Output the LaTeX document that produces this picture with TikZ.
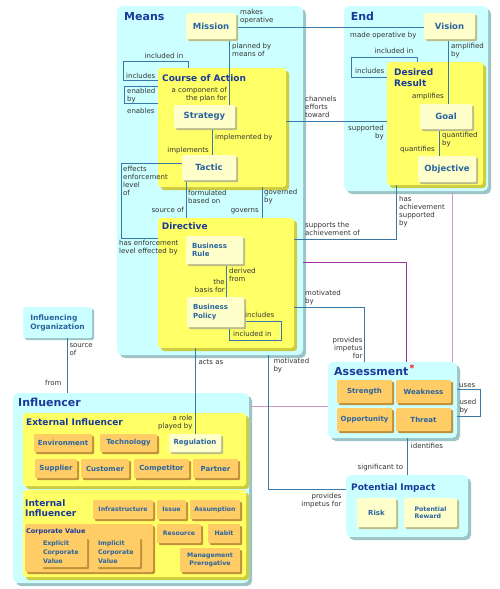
\documentclass[tikz,border=0pt]{standalone}
\usepackage{fontspec}
\setmainfont{DejaVu Sans}
\usetikzlibrary{shadows}
\pgfdeclarelayer{grplayer}
\pgfdeclarelayer{linelayer}
\pgfsetlayers{grplayer,linelayer,main}
\definecolor{cyanbg}{HTML}{CCFFFF}
\definecolor{cyansh}{HTML}{9CC3C6}
\definecolor{yelbg}{HTML}{FFFF66}
\definecolor{yelsh}{HTML}{CCCC40}
\definecolor{ltyel}{HTML}{FFFFCC}
\definecolor{ltyelsh}{HTML}{BDBD8A}
\definecolor{orng}{HTML}{FFCC66}
\definecolor{orngsh}{HTML}{C0903A}
\definecolor{lineblue}{HTML}{3A78A8}
\definecolor{magdark}{HTML}{993399}
\definecolor{maglight}{HTML}{CC99CC}
\definecolor{titleblue}{HTML}{1A3A99}
\definecolor{nameblue}{HTML}{2A64A0}
\definecolor{lbltext}{HTML}{333333}
\newcommand{\mylblf}{\fontsize{7}{8}\selectfont}
\newcommand{\mynamef}{\fontsize{8.5}{9.5}\selectfont\bfseries}
\newcommand{\mysmname}{\fontsize{7}{8.5}\selectfont\bfseries}
\newcommand{\myitem}{\fontsize{7}{8}\selectfont\bfseries}
\newcommand{\mysmitem}{\fontsize{6.2}{7.2}\selectfont\bfseries}
\newcommand{\mycvitem}{\fontsize{6.3}{8.7}\selectfont\bfseries}
\newcommand{\mybigttl}{\fontsize{11}{12}\selectfont\bfseries}
\newcommand{\mymidttl}{\fontsize{9}{10.5}\selectfont\bfseries}
\newcommand{\bx}[7]{\node[#2,minimum width={(#5)-(#3)},minimum height={(#6)-(#4)}] (#1) at ({((#3)+(#5))/2},{((#4)+(#6))/2}) {#7};}
\tikzset{
  grp/.style={rectangle, rounded corners=5pt, fill=cyanbg, inner sep=0pt, outer sep=0pt,
    drop shadow={shadow xshift=3pt, shadow yshift=-3pt, fill=cyansh, opacity=1}},
  cnode/.style={rectangle, rounded corners=2pt, fill=cyanbg, inner sep=0pt, outer sep=0pt,
    drop shadow={shadow xshift=2pt, shadow yshift=-2pt, fill=cyansh, opacity=1},
    text=nameblue, font=\fontsize{7.5}{9}\selectfont\bfseries, align=left},
  ygrp/.style={rectangle, rounded corners=3pt, fill=yelbg, inner sep=0pt, outer sep=0pt,
    drop shadow={shadow xshift=3pt, shadow yshift=-3pt, fill=yelsh, opacity=1}},
  ogrp/.style={rectangle, rounded corners=1.5pt, fill=orng, inner sep=0pt, outer sep=0pt,
    drop shadow={shadow xshift=2pt, shadow yshift=-2pt, fill=orngsh, opacity=1}},
  lnode/.style={rectangle, rounded corners=1pt, fill=ltyel, inner sep=0pt, outer sep=0pt,
    drop shadow={shadow xshift=2pt, shadow yshift=-2pt, fill=ltyelsh, opacity=1},
    text=nameblue, font=\mynamef, align=center},
  onode/.style={rectangle, rounded corners=1pt, fill=orng, inner sep=0pt, outer sep=0pt,
    drop shadow={shadow xshift=2pt, shadow yshift=-2pt, fill=orngsh, opacity=1},
    text=nameblue, font=\myitem, align=center},
  conn/.style={draw=lineblue, line width=0.7pt},
  mconn/.style={draw=magdark, line width=0.7pt},
  pconn/.style={draw=maglight, line width=0.7pt},
  llbl/.style={font=\mylblf, text=lbltext, inner sep=0pt, align=left, anchor=base west},
  rlbl/.style={font=\mylblf, text=lbltext, inner sep=0pt, align=right, anchor=base east},
  clbl/.style={font=\mylblf, text=lbltext, inner sep=0pt, anchor=base},
  ttl/.style={text=titleblue, inner sep=0pt, anchor=base west, align=left},
}
\begin{document}
\begin{tikzpicture}[x=1pt,y=-1pt]
\useasboundingbox (0,0) rectangle (500,589);
\begin{pgfonlayer}{grplayer}
\fill[white] (0,0) rectangle (500,589);
% cyan groups
\bx{means}{grp}{117}{6}{303}{355}{}
\bx{end}{grp}{344}{6}{488}{191}{}
\bx{io}{cnode}{23}{307}{92}{338}{Influencing\\Organization}
\bx{influencer}{grp}{13}{393}{249}{583}{}
\bx{assessment}{grp}{328}{362}{457}{438}{}
\bx{pi}{grp}{346}{475}{468}{537}{}
% yellow groups
\bx{coa}{ygrp}{158}{68}{286}{187}{}
\bx{dr}{ygrp}{387}{62}{483}{185}{}
\bx{directive}{ygrp}{158}{218}{294}{348}{}
\bx{extinf}{ygrp}{23}{413}{246}{486}{}
\bx{intinf}{ygrp}{23}{490}{246}{577}{}
\bx{corpvalue}{ogrp}{25}{524}{153}{572}{}
\end{pgfonlayer}
% leaf nodes
\bx{mission}{lnode}{186}{13}{236}{39}{Mission}
\bx{vision}{lnode}{424}{13}{475}{39}{Vision}
\bx{strategy}{lnode}{174}{105}{235}{128}{Strategy}
\bx{tactic}{lnode}{182}{155}{236}{180}{Tactic}
\bx{goal}{lnode}{420}{104}{472}{129}{Goal}
\bx{objective}{lnode}{418}{156}{476}{182}{Objective}
\bx{brule}{lnode,font=\mysmname,align=left,text width=45pt}{186}{236}{243}{264}{Business\\Rule}
\bx{bpolicy}{lnode,font=\mysmname,align=left,text width=45pt}{187}{297}{244}{327}{Business\\Policy}
\bx{environment}{onode}{34}{434}{92}{452}{Environment}
\bx{technology}{onode}{100}{434}{157}{452}{Technology}
\bx{regulation}{lnode,font=\myitem}{169}{434}{221}{452}{Regulation}
\bx{supplier}{onode}{35}{459}{77}{478}{Supplier}
\bx{customer}{onode}{81}{459}{129}{478}{Customer}
\bx{competitor}{onode}{134}{459}{189}{478}{Competitor}
\bx{partner}{onode}{193}{459}{238}{478}{Partner}
\bx{infrastructure}{onode,font=\mysmitem}{93}{500}{153}{519}{Infrastructure}
\bx{issue}{onode,font=\mysmitem}{157}{500}{186}{519}{Issue}
\bx{assumption}{onode,font=\mysmitem}{190}{500}{240}{519}{Assumption}
\bx{resource}{onode,font=\mysmitem}{157}{524}{201}{543}{Resource}
\bx{habit}{onode,font=\mysmitem}{208}{524}{240}{543}{Habit}
\bx{mgmt}{onode,font=\mysmitem}{180}{548}{240}{572}{Management\\Prerogative}
\bx{explicit}{onode,font=\mycvitem,align=left,text width=42pt}{41}{537}{87}{567}{Explicit\\Corporate\\Value}
\bx{implicit}{onode,font=\mycvitem,align=left,text width=40pt}{96}{537}{140}{567}{Implicit\\Corporate\\Value}
\bx{strength}{onode}{337}{380}{392}{403}{Strength}
\bx{weakness}{onode}{396}{380}{451}{403}{Weakness}
\bx{opportunity}{onode}{337}{408}{392}{431}{Opportunity}
\bx{threat}{onode}{396}{408}{451}{431}{Threat}
\bx{risk}{lnode,font=\myitem}{357}{498}{396}{527}{Risk}
\bx{preward}{lnode,font=\mysmitem,align=left}{404}{498}{457}{527}{Potential\\Reward}
% connectors
\begin{pgfonlayer}{linelayer}
\draw[conn] (mission.east |- 0,27) -- (vision.west |- 0,27);
\draw[conn] (mission.south -| 229,0) -- (strategy.north -| 229,0);
\draw[conn] (coa.west |- 0,80) -- (123,80) -- (123,61) -- (188,61) -- (coa.north -| 188,0);
\draw[conn] (coa.west |- 0,86) -- (124,86) -- (124,103) -- (coa.west |- 0,103);
\draw[conn] (coa.east |- 0,121.7) -- (dr.west |- 0,121.7);
\draw[conn] (strategy.south -| 212,0) -- (tactic.north -| 212,0);
\draw[conn] (tactic.west |- 0,163.3) -- (121,163.3) -- (121,238.3) -- (directive.west |- 0,238.3);
\draw[conn] (tactic.south -| 186,0) -- (directive.north -| 186,0);
\draw[conn] (coa.south -| 262.7,0) -- (directive.north -| 262.7,0);
\draw[conn] (brule.south -| 226.7,0) -- (bpolicy.north -| 226.7,0);
\draw[conn] (bpolicy.east |- 0,321) -- (281,321) -- (281,340) -- (229,340) -- (bpolicy.south -| 229,0);
\draw[conn] (directive.east |- 0,239) -- (396,239) -- (dr.south -| 396,0);
\draw[conn] (vision.south -| 448,0) -- (goal.north -| 448,0);
\draw[conn] (goal.south -| 439,0) -- (objective.north -| 439,0);
\draw[conn] (dr.west |- 0,77) -- (351,77) -- (351,57) -- (417,57) -- (dr.north -| 417,0);
\draw[mconn] (means.east |- 0,262) -- (406,262) -- (assessment.north -| 406,0);
\draw[conn] (directive.east |- 0,307.3) -- (364,307.3) -- (assessment.north -| 364,0);
\draw[pconn] (end.south -| 452,0) -- (assessment.north -| 452,0);
\draw[pconn] (influencer.east |- 0,406) -- (assessment.west |- 0,406);
\draw[conn] (means.south -| 268.3,0) -- (268.3,489.3) -- (pi.west |- 0,489.3);
\draw[conn] (directive.south -| 195.7,0) -- (regulation.north -| 195.7,0);
\draw[conn] (io.south -| 67.7,0) -- (influencer.north -| 67.7,0);
\draw[conn] (assessment.east |- 0,389.3) -- (480,389.3) -- (480,416.7) -- (assessment.east |- 0,416.7);
\draw[conn] (assessment.south -| 407.3,0) -- (pi.north -| 407.3,0);
\end{pgfonlayer}
% titles
\node[ttl,font=\mybigttl] (tmeans) at (124,20.5) {Means};
\node[ttl,font=\mybigttl] (tend) at (350.7,20.7) {End};
\node[ttl,font=\mymidttl] (tcoa) at (162,81) {Course of Action};
\node[ttl,font=\mymidttl] (tdr) at (394,86) {Desired\\Result};
\node[ttl,font=\mymidttl] (tdir) at (161.7,229) {Directive};
\node[ttl,font=\mybigttl] (tinf) at (18,406.7) {Influencer};
\node[ttl,font=\mymidttl] (text) at (26,425) {External Influencer};
\node[ttl,font=\mymidttl] (tint) at (25,516.7) {Internal\\Influencer};
\node[ttl,font=\fontsize{6.5}{7.5}\selectfont\bfseries] (tcv) at (26,533.5) {Corporate Value};
\node[ttl,font=\mybigttl] (tass) at (334,375) {Assessment};
\node[text=red,font=\fontsize{9}{9}\selectfont\bfseries,inner sep=0pt] (star) at (412,368) {*};
\node[ttl,font=\mymidttl] (tpi) at (351,490) {Potential Impact};
% connector labels
\node[llbl] at (240,22.7) {makes\\operative};
\node[llbl] at (350,37) {made operative by};
\node[llbl] at (232,56.7) {planned by\\means of};
\node[clbl] at (164,58.5) {included in};
\node[llbl] at (126,78.7) {includes};
\node[llbl] at (127,101) {enabled\\by};
\node[llbl] at (127,113.7) {enables};
\node[rlbl] at (227,100.7) {a component of\\the plan for};
\node[llbl] at (305,117.3) {channels\\efforts\\toward};
\node[rlbl] at (384,138.3) {supported\\by};
\node[clbl] at (394,53.7) {included in};
\node[llbl] at (355,73.7) {includes};
\node[llbl] at (451,56.7) {amplified\\by};
\node[rlbl] at (444,98.7) {amplifies};
\node[llbl] at (442,145) {quantified\\by};
\node[rlbl] at (435,151.3) {quantifies};
\node[llbl] at (215,139.3) {implemented by};
\node[rlbl] at (209,152) {implements};
\node[llbl] at (123,195) {effects\\enforcement\\level\\of};
\node[llbl] at (188,203.3) {formulated\\based on};
\node[rlbl] at (184,212) {source of};
\node[llbl] at (264,202.3) {governed\\by};
\node[rlbl] at (259,212) {governs};
\node[llbl] at (119,253.3) {has enforcement\\level effected by};
\node[llbl] at (229,281) {derived\\from};
\node[rlbl] at (225,292.3) {the\\basis for};
\node[llbl] at (245,317.7) {includes};
\node[llbl] at (233,336.3) {included in};
\node[llbl] at (305,235) {supports the\\achievement of};
\node[llbl] at (399,225.3) {has\\achievement\\supported\\by};
\node[llbl] at (305,303.3) {motivated\\by};
\node[rlbl] at (362.7,358.7) {provides\\impetus\\for};
\node[llbl] at (273.3,371.7) {motivated\\by};
\node[llbl] at (459,387) {uses};
\node[llbl] at (459.3,412.7) {used\\by};
\node[llbl] at (198.3,364.3) {acts as};
\node[llbl] at (69.3,355) {source\\of};
\node[rlbl] at (61.7,385.3) {from};
\node[rlbl] at (192.7,428.3) {a role\\played by};
\node[llbl] at (410.7,448.7) {identifies};
\node[rlbl] at (403.3,469.3) {significant to};
\node[rlbl] at (341.7,506.7) {provides\\impetus for};
\end{tikzpicture}
\end{document}
